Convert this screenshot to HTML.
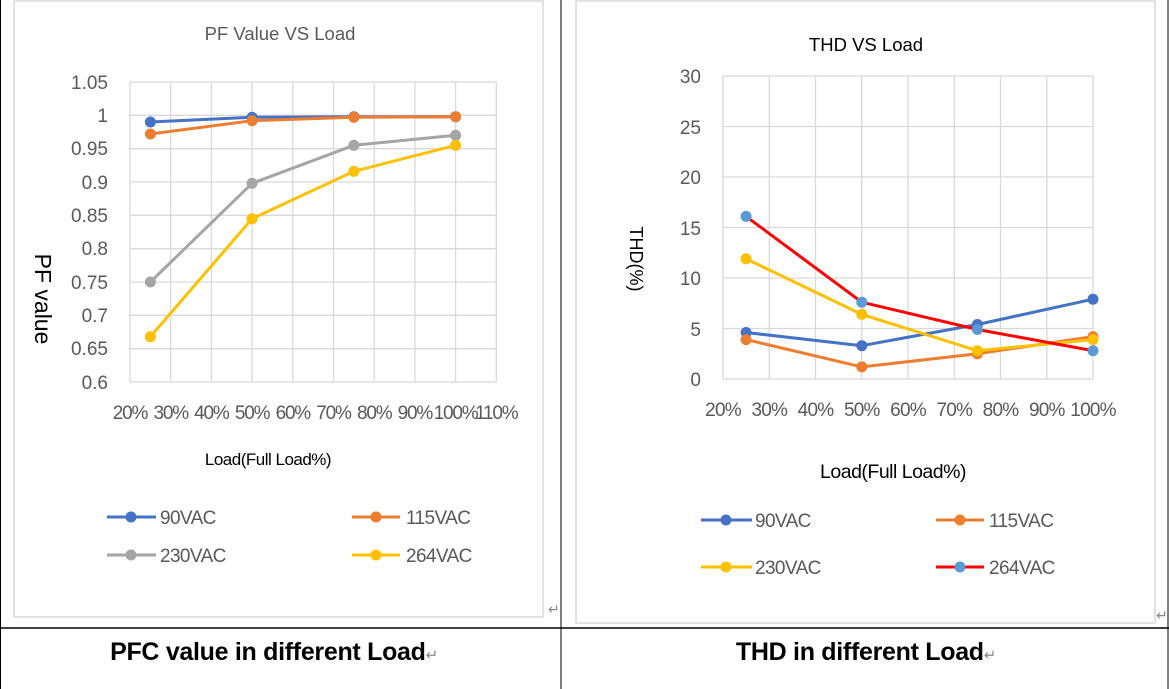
<!DOCTYPE html>
<html><head><meta charset="utf-8"><style>
html,body{margin:0;padding:0;background:#fff;}
svg{display:block;font-family:"Liberation Sans",sans-serif;}
</style></head><body>
<svg width="1169" height="689" viewBox="0 0 1169 689" xmlns="http://www.w3.org/2000/svg">
<line x1="0" y1="628" x2="1169" y2="628" stroke="#000" stroke-width="1.5"/>
<line x1="561" y1="0" x2="561" y2="689" stroke="#000" stroke-width="1"/>
<line x1="0.5" y1="0" x2="0.5" y2="689" stroke="#000" stroke-width="1"/>
<line x1="1168" y1="0" x2="1168" y2="689" stroke="#000" stroke-width="1"/>
<rect x="14" y="1" width="529" height="616" fill="#fff" stroke="#d9d9d9" stroke-width="1.5"/>
<rect x="576" y="1" width="579" height="622" fill="#fff" stroke="#d9d9d9" stroke-width="1.5"/>

<!-- LEFT CHART -->
<text x="280" y="40" text-anchor="middle" font-size="18.5" fill="#595959">PF Value VS Load</text>
<g stroke="#d9d9d9" stroke-width="1.3">
<line x1="130" y1="82" x2="496.3" y2="82"/><line x1="130" y1="115.3" x2="496.3" y2="115.3"/><line x1="130" y1="148.7" x2="496.3" y2="148.7"/><line x1="130" y1="182" x2="496.3" y2="182"/><line x1="130" y1="215.3" x2="496.3" y2="215.3"/><line x1="130" y1="248.7" x2="496.3" y2="248.7"/><line x1="130" y1="282" x2="496.3" y2="282"/><line x1="130" y1="315.3" x2="496.3" y2="315.3"/><line x1="130" y1="348.7" x2="496.3" y2="348.7"/><line x1="130" y1="382" x2="496.3" y2="382"/>
<line x1="130" y1="82" x2="130" y2="382"/><line x1="170.7" y1="82" x2="170.7" y2="382"/><line x1="211.4" y1="82" x2="211.4" y2="382"/><line x1="252.1" y1="82" x2="252.1" y2="382"/><line x1="292.8" y1="82" x2="292.8" y2="382"/><line x1="333.5" y1="82" x2="333.5" y2="382"/><line x1="374.2" y1="82" x2="374.2" y2="382"/><line x1="414.9" y1="82" x2="414.9" y2="382"/><line x1="455.6" y1="82" x2="455.6" y2="382"/><line x1="496.3" y1="82" x2="496.3" y2="382"/>
</g>
<g font-size="19" fill="#595959" text-anchor="end">
<text x="108" y="89">1.05</text><text x="108" y="122">1</text><text x="108" y="155">0.95</text><text x="108" y="189">0.9</text><text x="108" y="222">0.85</text><text x="108" y="255">0.8</text><text x="108" y="289">0.75</text><text x="108" y="322">0.7</text><text x="108" y="355">0.65</text><text x="108" y="389">0.6</text>
</g>
<g font-size="19" fill="#595959" text-anchor="middle" letter-spacing="-1.2">
<text x="130" y="419">20%</text><text x="170.7" y="419">30%</text><text x="211.4" y="419">40%</text><text x="252.1" y="419">50%</text><text x="292.8" y="419">60%</text><text x="333.5" y="419">70%</text><text x="374.2" y="419">80%</text><text x="414.9" y="419">90%</text><text x="455.6" y="419">100%</text><text x="496.3" y="419">110%</text>
</g>
<text transform="translate(35,299) rotate(90)" text-anchor="middle" font-size="23" fill="#000">PF value</text>
<text x="268" y="465" text-anchor="middle" font-size="17" fill="#000" letter-spacing="-0.5">Load(Full Load%)</text>
<g fill="none" stroke-width="3" stroke-linejoin="round">
<polyline stroke="#a5a5a5" points="150.4,282 252.1,183.3 353.9,145.3 455.6,135.3"/>
<polyline stroke="#ffc000" points="150.4,336.7 252.1,218.7 353.9,171.3 455.6,145.3"/>
<polyline stroke="#4472c4" points="150.4,122 252.1,117.3 353.9,116.7 455.6,116.7"/>
<polyline stroke="#ed7d31" points="150.4,134 252.1,120.7 353.9,117.3 455.6,116.7"/>
</g>
<g fill="#a5a5a5"><circle cx="150.4" cy="282" r="5.5"/><circle cx="252.1" cy="183.3" r="5.5"/><circle cx="353.9" cy="145.3" r="5.5"/><circle cx="455.6" cy="135.3" r="5.5"/></g>
<g fill="#ffc000"><circle cx="150.4" cy="336.7" r="5.5"/><circle cx="252.1" cy="218.7" r="5.5"/><circle cx="353.9" cy="171.3" r="5.5"/><circle cx="455.6" cy="145.3" r="5.5"/></g>
<g fill="#4472c4"><circle cx="150.4" cy="122" r="5.5"/><circle cx="252.1" cy="117.3" r="5.5"/><circle cx="353.9" cy="116.7" r="5.5"/><circle cx="455.6" cy="116.7" r="5.5"/></g>
<g fill="#ed7d31"><circle cx="150.4" cy="134" r="5.5"/><circle cx="252.1" cy="120.7" r="5.5"/><circle cx="353.9" cy="117.3" r="5.5"/><circle cx="455.6" cy="116.7" r="5.5"/></g>
<g stroke-width="3">
<line x1="107" y1="517" x2="156" y2="517" stroke="#4472c4"/><circle cx="131" cy="517" r="5.5" fill="#4472c4"/>
<line x1="352" y1="517" x2="400" y2="517" stroke="#ed7d31"/><circle cx="376" cy="517" r="5.5" fill="#ed7d31"/>
<line x1="107" y1="555" x2="156" y2="555" stroke="#a5a5a5"/><circle cx="131" cy="555" r="5.5" fill="#a5a5a5"/>
<line x1="352" y1="555" x2="400" y2="555" stroke="#ffc000"/><circle cx="376" cy="555" r="5.5" fill="#ffc000"/>
</g>
<g font-size="19" fill="#595959" letter-spacing="-0.6">
<text x="160" y="524">90VAC</text><text x="406" y="524">115VAC</text>
<text x="160" y="562">230VAC</text><text x="406" y="562">264VAC</text>
</g>
<text x="548" y="614" font-size="14" fill="#888">↵</text>

<!-- RIGHT CHART -->
<text x="866" y="51" text-anchor="middle" font-size="18.5" fill="#000">THD VS Load</text>
<g stroke="#d9d9d9" stroke-width="1.3">
<line x1="723" y1="76" x2="1093" y2="76"/><line x1="723" y1="126.5" x2="1093" y2="126.5"/><line x1="723" y1="177" x2="1093" y2="177"/><line x1="723" y1="227.5" x2="1093" y2="227.5"/><line x1="723" y1="278" x2="1093" y2="278"/><line x1="723" y1="328.5" x2="1093" y2="328.5"/><line x1="723" y1="379" x2="1093" y2="379"/>
<line x1="723" y1="76" x2="723" y2="379"/><line x1="769.3" y1="76" x2="769.3" y2="379"/><line x1="815.5" y1="76" x2="815.5" y2="379"/><line x1="861.8" y1="76" x2="861.8" y2="379"/><line x1="908" y1="76" x2="908" y2="379"/><line x1="954.3" y1="76" x2="954.3" y2="379"/><line x1="1000.5" y1="76" x2="1000.5" y2="379"/><line x1="1046.8" y1="76" x2="1046.8" y2="379"/><line x1="1093" y1="76" x2="1093" y2="379"/>
</g>
<g font-size="19" fill="#595959" text-anchor="end">
<text x="701" y="83">30</text><text x="701" y="134">25</text><text x="701" y="184">20</text><text x="701" y="235">15</text><text x="701" y="285">10</text><text x="701" y="336">5</text><text x="701" y="386">0</text>
</g>
<g font-size="19" fill="#595959" text-anchor="middle" letter-spacing="-0.8">
<text x="723" y="416">20%</text><text x="769.3" y="416">30%</text><text x="815.5" y="416">40%</text><text x="861.8" y="416">50%</text><text x="908" y="416">60%</text><text x="954.3" y="416">70%</text><text x="1000.5" y="416">80%</text><text x="1046.8" y="416">90%</text><text x="1093" y="416">100%</text>
</g>
<text transform="translate(630,259) rotate(90)" text-anchor="middle" font-size="18" fill="#000">THD(%)</text>
<text x="893" y="478" text-anchor="middle" font-size="19.5" fill="#000" letter-spacing="-0.5">Load(Full Load%)</text>
<g fill="none" stroke-width="3" stroke-linejoin="round">
<polyline stroke="#4472c4" points="746.1,332.5 861.8,345.7 977.4,324.5 1093,299.2"/>
<polyline stroke="#ed7d31" points="746.1,339.6 861.8,366.9 977.4,353.8 1093,336.6"/>
<polyline stroke="#ffc000" points="746.1,258.8 861.8,314.4 977.4,350.7 1093,339.6"/>
<polyline stroke="#ff0000" points="746.1,216.4 861.8,302.2 977.4,329.5 1093,350.7"/>
</g>
<g fill="#4472c4"><circle cx="746.1" cy="332.5" r="5.5"/><circle cx="861.8" cy="345.7" r="5.5"/><circle cx="977.4" cy="324.5" r="5.5"/><circle cx="1093" cy="299.2" r="5.5"/></g>
<g fill="#ed7d31"><circle cx="746.1" cy="339.6" r="5.5"/><circle cx="861.8" cy="366.9" r="5.5"/><circle cx="977.4" cy="353.8" r="5.5"/><circle cx="1093" cy="336.6" r="5.5"/></g>
<g fill="#ffc000"><circle cx="746.1" cy="258.8" r="5.5"/><circle cx="861.8" cy="314.4" r="5.5"/><circle cx="977.4" cy="350.7" r="5.5"/><circle cx="1093" cy="339.6" r="5.5"/></g>
<g fill="#5b9bd5"><circle cx="746.1" cy="216.4" r="5.5"/><circle cx="861.8" cy="302.2" r="5.5"/><circle cx="977.4" cy="329.5" r="5.5"/><circle cx="1093" cy="350.7" r="5.5"/></g>
<g stroke-width="3">
<line x1="701" y1="520" x2="752" y2="520" stroke="#4472c4"/><circle cx="726" cy="520" r="5.5" fill="#4472c4"/>
<line x1="936" y1="520" x2="984" y2="520" stroke="#ed7d31"/><circle cx="960" cy="520" r="5.5" fill="#ed7d31"/>
<line x1="701" y1="567" x2="752" y2="567" stroke="#ffc000"/><circle cx="726" cy="567" r="5.5" fill="#ffc000"/>
<line x1="936" y1="567" x2="984" y2="567" stroke="#ff0000"/><circle cx="960" cy="567" r="5.5" fill="#5b9bd5"/>
</g>
<g font-size="19" fill="#595959" letter-spacing="-0.6">
<text x="755" y="527">90VAC</text><text x="989" y="527">115VAC</text>
<text x="755" y="574">230VAC</text><text x="989" y="574">264VAC</text>
</g>
<text x="1156" y="620" font-size="14" fill="#888">↵</text>

<text x="274" y="660" text-anchor="middle" font-size="25" font-weight="bold" fill="#000" letter-spacing="-0.3">PFC value in different Load<tspan font-size="15" font-weight="normal" fill="#888">↵</tspan></text>
<text x="866" y="660" text-anchor="middle" font-size="25" font-weight="bold" fill="#000" letter-spacing="-0.3">THD in different Load<tspan font-size="15" font-weight="normal" fill="#888">↵</tspan></text>
</svg>
</body></html>
